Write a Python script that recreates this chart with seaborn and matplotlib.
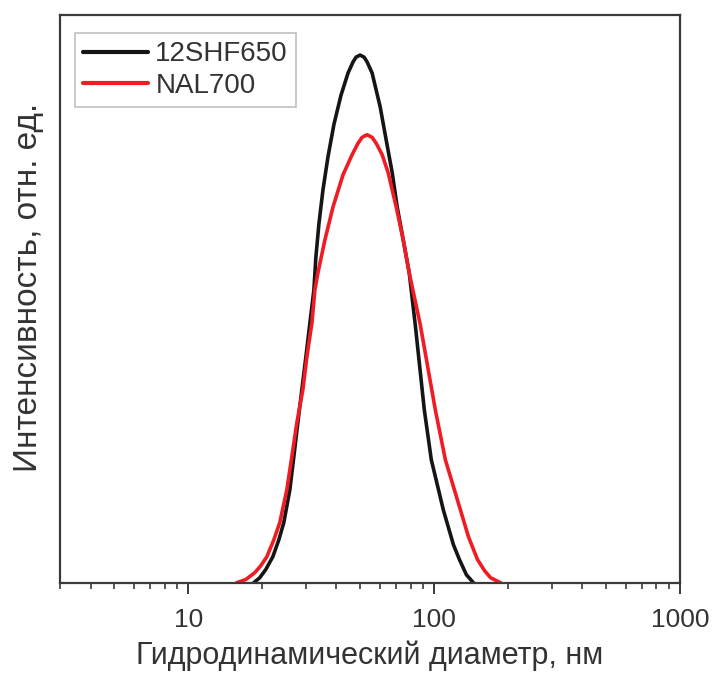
import matplotlib
matplotlib.use("Agg")
import matplotlib.pyplot as plt
import seaborn as sns
import pandas as pd

# 12SHF650 (чёрная кривая)
d_black = [18.42, 19.49, 20.62, 22.02, 23.30, 24.42, 25.84, 26.83, 27.85, 28.92,
           30.03, 31.18, 32.37, 32.98, 33.93, 35.23, 36.93, 39.07, 41.73, 44.57,
           46.71, 48.04, 49.89, 51.80, 53.28, 55.84, 60.21, 63.71, 67.41, 70.63,
           74.72, 79.07, 83.64, 91.03, 97.22, 108.8, 119.6, 126.5, 135.1, 144.3]
i_black = [0.0, 0.0095, 0.025, 0.049, 0.081, 0.114, 0.176, 0.239, 0.303, 0.366,
           0.428, 0.492, 0.555, 0.617, 0.680, 0.744, 0.807, 0.869, 0.924, 0.966,
           0.987, 0.996, 1.0, 0.996, 0.987, 0.966, 0.902, 0.839, 0.777, 0.712,
           0.650, 0.587, 0.489, 0.328, 0.233, 0.138, 0.072, 0.044, 0.015, 0.0]

# NAL700 (красная кривая)
d_red = [15.70, 17.09, 18.60, 19.67, 20.82, 22.23, 23.52, 25.12, 26.33, 27.59,
         29.20, 30.31, 31.77, 32.68, 33.61, 35.90, 38.71, 42.52, 46.28, 48.96,
         50.83, 53.28, 55.84, 57.99, 61.36, 64.91, 69.99, 74.72, 79.07, 87.67,
         100.9, 110.9, 127.7, 137.7, 149.8, 160.0, 169.3, 186.0]
i_red = [0.0, 0.006, 0.019, 0.032, 0.049, 0.081, 0.114, 0.176, 0.239, 0.303,
         0.366, 0.428, 0.492, 0.555, 0.587, 0.650, 0.712, 0.773, 0.811, 0.833,
         0.844, 0.849, 0.844, 0.833, 0.811, 0.777, 0.712, 0.650, 0.587, 0.489,
         0.328, 0.233, 0.138, 0.087, 0.044, 0.023, 0.0095, 0.0]

names = ["12SHF650", "NAL700"]

df = pd.concat([
    pd.DataFrame({"d": d_black, "i": i_black, "sample": names[0]}),
    pd.DataFrame({"d": d_red, "i": i_red, "sample": names[1]}),
])

sns.set_style("white")
plt.rcParams['font.family'] = ['Liberation Sans', 'DejaVu Sans']

fig = plt.figure(figsize=(7.13, 6.8), dpi=100)
ax = fig.add_axes([0.084, 0.143, 0.87, 0.835])

sns.lineplot(data=df, x="d", y="i", hue="sample", estimator=None, sort=False,
             palette={names[0]: "#151515", names[1]: "#f01c24"},
             linewidth=2.6, ax=ax)

ax.set_xscale("log")
ax.set_xlim(3, 1000)
ax.set_ylim(0, 1.076)
ax.set_xticks([10, 100, 1000])
ax.set_xticklabels(["10", "100", "1000"])
ax.set_yticks([])

for s in ax.spines.values():
    s.set_color("#3a3a3a")
    s.set_linewidth(1.6)

txt = "#333333"
ax.tick_params(axis="x", which="major", direction="out", length=8, width=1.4,
               color="#3a3a3a", labelsize=19, labelcolor=txt, pad=10)
ax.tick_params(axis="x", which="minor", direction="out", length=4, width=1.2,
               color="#3a3a3a")
ax.tick_params(axis="x", which="both", bottom=True, top=False)

ax.set_xlabel("Гидродинамический диаметр, нм", fontsize=22, color=txt, labelpad=6)
ax.set_ylabel("Интенсивность, отн. ед.", fontsize=24, color=txt)
ax.yaxis.set_label_coords(-0.025, 0.52)

leg = ax.legend(loc="upper left", fontsize=20, frameon=True, fancybox=False,
                handlelength=2.35, handletextpad=0.25, labelspacing=0.2,
                borderpad=0.3, borderaxespad=0, bbox_to_anchor=(0.024, 0.968))
leg.get_frame().set_edgecolor("#b0b0b0")
leg.get_frame().set_linewidth(1.2)
for t in leg.get_texts():
    t.set_color(txt)
for l in leg.get_lines():
    l.set_linewidth(3)

fig.savefig("out.png", dpi=100)
